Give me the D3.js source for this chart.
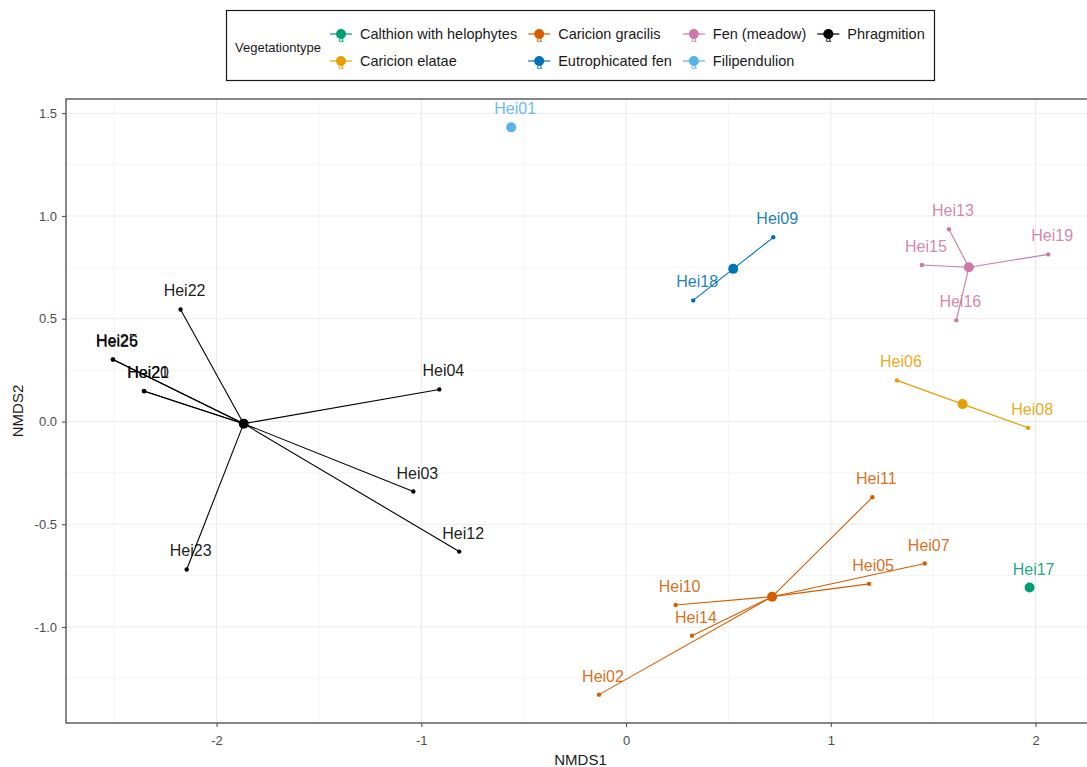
<!DOCTYPE html>
<html lang="en">
<head>
    <meta charset="UTF-8">
    <title>NMDS ordination by vegetation type</title>
    <script src="https://d3js.org/d3.v7.min.js"></script>
    <style>
        body { margin: 0; background: #fff; }
        svg { display: block; font-family: "Liberation Sans", Arial, sans-serif; }
    </style>
</head>
<body>
    <div id="chart"></div>
    <script>
        // Site scores
        const sites = ["Hei01", "Hei02", "Hei03", "Hei04", "Hei05", "Hei06", "Hei07", "Hei08", "Hei09", "Hei10",
                       "Hei11", "Hei12", "Hei13", "Hei14", "Hei15", "Hei16", "Hei17", "Hei18", "Hei19", "Hei20",
                       "Hei21", "Hei22", "Hei23", "Hei25", "Hei26"];
        const nmds1 = [-0.561, -0.132, -1.039, -0.912, 1.187, 1.323, 1.459, 1.964, 0.719, 0.242,
                       1.203, -0.815, 1.577, 0.322, 1.445, 1.613, 1.971, 0.328, 2.062, -2.355,
                       -2.353, -2.176, -2.146, -2.507, -2.505];
        const nmds2 = [1.431, -1.329, -0.341, 0.156, -0.790, 0.200, -0.691, -0.031, 0.896, -0.893,
                       -0.369, -0.633, 0.935, -1.042, 0.761, 0.492, -0.808, 0.589, 0.813, 0.148,
                       0.147, 0.545, -0.720, 0.302, 0.301];
        const vegType = ["Filipendulion", "Caricion gracilis", "Phragmition", "Phragmition", "Caricion gracilis",
                         "Caricion elatae", "Caricion gracilis", "Caricion elatae", "Eutrophicated fen", "Caricion gracilis",
                         "Caricion gracilis", "Phragmition", "Fen (meadow)", "Caricion gracilis", "Fen (meadow)",
                         "Fen (meadow)", "Calthion with helophytes", "Eutrophicated fen", "Fen (meadow)", "Phragmition",
                         "Phragmition", "Phragmition", "Phragmition", "Phragmition", "Phragmition"];

        const groups = ["Calthion with helophytes", "Caricion elatae", "Caricion gracilis", "Eutrophicated fen",
                        "Fen (meadow)", "Filipendulion", "Phragmition"];
        const groupColors = ["#009E73", "#E69F00", "#D55E00", "#0072B2", "#CC79A7", "#56B4E9", "#000000"];

        const xTicks = [-2, -1, 0, 1, 2];
        const yTicks = [-1.0, -0.5, 0.0, 0.5, 1.0, 1.5];

        const W = 1087, H = 767;
        const panel = {left: 66, right: 1095, top: 99, bottom: 723};

        const points = sites.map((s, i) => ({site: s, x: nmds1[i], y: nmds2[i], g: vegType[i]}));
        const color = d3.scaleOrdinal().domain(groups).range(groupColors);

        // centroids per vegetation type
        const centroids = groups.map(g => {
            const m = points.filter(p => p.g === g);
            return {g: g, x: d3.mean(m, p => p.x), y: d3.mean(m, p => p.y)};
        });

        // ggplot-like 5% expansion
        function expand(ext) {
            const pad = (ext[1] - ext[0]) * 0.05;
            return [ext[0] - pad, ext[1] + pad];
        }
        const x = d3.scaleLinear().domain(expand(d3.extent(nmds1))).range([panel.left, panel.right]);
        const y = d3.scaleLinear().domain(expand(d3.extent(nmds2))).range([panel.bottom, panel.top]);

        const svg = d3.select("#chart").append("svg")
            .attr("width", W)
            .attr("height", H);

        svg.append("rect").attr("width", W).attr("height", H).attr("fill", "#fff");

        // grid
        const grid = svg.append("g");
        const xMinor = xTicks.slice(0, -1).map(v => v + 0.5).concat([xTicks[0] - 0.5]);
        const yMinor = yTicks.slice(0, -1).map(v => v + 0.25).concat([yTicks[0] - 0.25]);
        grid.selectAll(".xminor").data(xMinor.filter(v => x(v) > panel.left && x(v) < panel.right))
            .enter().append("line")
            .attr("x1", d => x(d)).attr("x2", d => x(d))
            .attr("y1", panel.top).attr("y2", panel.bottom)
            .attr("stroke", "#F2F2F2").attr("stroke-width", 0.8);
        grid.selectAll(".yminor").data(yMinor.filter(v => y(v) < panel.bottom && y(v) > panel.top))
            .enter().append("line")
            .attr("y1", d => y(d)).attr("y2", d => y(d))
            .attr("x1", panel.left).attr("x2", panel.right)
            .attr("stroke", "#F2F2F2").attr("stroke-width", 0.8);
        grid.selectAll(".xmajor").data(xTicks)
            .enter().append("line")
            .attr("x1", d => x(d)).attr("x2", d => x(d))
            .attr("y1", panel.top).attr("y2", panel.bottom)
            .attr("stroke", "#EBEBEB").attr("stroke-width", 1.1);
        grid.selectAll(".ymajor").data(yTicks)
            .enter().append("line")
            .attr("y1", d => y(d)).attr("y2", d => y(d))
            .attr("x1", panel.left).attr("x2", panel.right)
            .attr("stroke", "#EBEBEB").attr("stroke-width", 1.1);

        // axes (plain hyphen for negatives, like R)
        const hyph = f => (d => f(d).replace("\u2212", "-"));
        const xAxis = svg.append("g")
            .attr("transform", `translate(0,${panel.bottom})`)
            .call(d3.axisBottom(x).tickValues(xTicks).tickSize(4).tickPadding(9).tickFormat(hyph(d3.format("d"))));
        const yAxis = svg.append("g")
            .attr("transform", `translate(${panel.left},0)`)
            .call(d3.axisLeft(y).tickValues(yTicks).tickSize(4).tickPadding(5).tickFormat(hyph(d3.format(".1f"))));
        [xAxis, yAxis].forEach(a => {
            a.select(".domain").remove();
            a.selectAll(".tick line").attr("stroke", "#555555").attr("stroke-width", 1.1);
            a.selectAll(".tick text").attr("fill", "#4D4D4D")
                .style("font-size", "13px").style("font-family", "Liberation Sans, Arial, sans-serif");
        });

        // panel border
        svg.append("rect")
            .attr("x", panel.left).attr("y", panel.top)
            .attr("width", panel.right - panel.left).attr("height", panel.bottom - panel.top)
            .attr("fill", "none").attr("stroke", "#555555").attr("stroke-width", 1.4);

        // axis titles
        svg.append("text")
            .attr("x", (panel.left + panel.right) / 2).attr("y", 765)
            .attr("text-anchor", "middle").style("font-size", "15px").attr("fill", "#1a1a1a")
            .text("NMDS1");
        svg.append("text")
            .attr("transform", `translate(23,${(panel.top + panel.bottom) / 2}) rotate(-90)`)
            .attr("text-anchor", "middle").style("font-size", "15px").attr("fill", "#1a1a1a")
            .text("NMDS2");

        // spider segments centroid -> site
        const cById = new Map(centroids.map(c => [c.g, c]));
        svg.append("g").selectAll("line")
            .data(points)
            .enter().append("line")
            .attr("x1", d => x(cById.get(d.g).x)).attr("y1", d => y(cById.get(d.g).y))
            .attr("x2", d => x(d.x)).attr("y2", d => y(d.y))
            .attr("stroke", d => color(d.g)).attr("stroke-width", 1.1);

        // site points
        svg.append("g").selectAll("circle")
            .data(points)
            .enter().append("circle")
            .attr("cx", d => x(d.x)).attr("cy", d => y(d.y)).attr("r", 2.2)
            .attr("fill", d => color(d.g));

        // centroids
        svg.append("g").selectAll("circle")
            .data(centroids)
            .enter().append("circle")
            .attr("cx", d => x(d.x)).attr("cy", d => y(d.y)).attr("r", 5)
            .attr("fill", d => color(d.g));

        // site labels
        svg.append("g").selectAll("text")
            .data(points)
            .enter().append("text")
            .attr("x", d => x(d.x) + 4).attr("y", d => y(d.y) - 13)
            .attr("text-anchor", "middle")
            .style("font-size", "16px")
            .attr("fill", d => color(d.g))
            .attr("fill-opacity", 0.9)
            .text(d => d.site);

        // legend
        const legend = svg.append("g");
        legend.append("rect")
            .attr("x", 226.5).attr("y", 10.5).attr("width", 708).attr("height", 70)
            .attr("fill", "#fff").attr("stroke", "#1a1a1a").attr("stroke-width", 1.2);
        legend.append("text")
            .attr("x", 235).attr("y", 52).style("font-size", "13px").attr("fill", "#1a1a1a")
            .text("Vegetationtype");

        const rowY = [34, 61];
        let colX = 341;
        for (let c = 0; c < Math.ceil(groups.length / 2); c++) {
            let maxW = 0;
            for (let r = 0; r < 2; r++) {
                const i = c * 2 + r;
                if (i >= groups.length) break;
                const k = legend.append("g").attr("transform", `translate(${colX},${rowY[r]})`);
                k.append("line").attr("x1", -11).attr("x2", 11)
                    .attr("stroke", groupColors[i]).attr("stroke-width", 1.2);
                k.append("text").attr("x", 0).attr("y", 8).attr("text-anchor", "middle")
                    .style("font-size", "10px").attr("fill", groupColors[i]).text("a");
                k.append("circle").attr("r", 5).attr("fill", groupColors[i]);
                const t = legend.append("text")
                    .attr("x", colX + 19).attr("y", rowY[r] + 5)
                    .style("font-size", "14.5px").attr("fill", "#1a1a1a")
                    .text(groups[i]);
                maxW = Math.max(maxW, t.node().getComputedTextLength());
            }
            colX = colX + 19 + maxW + 22;
        }
    </script>
</body>
</html>
